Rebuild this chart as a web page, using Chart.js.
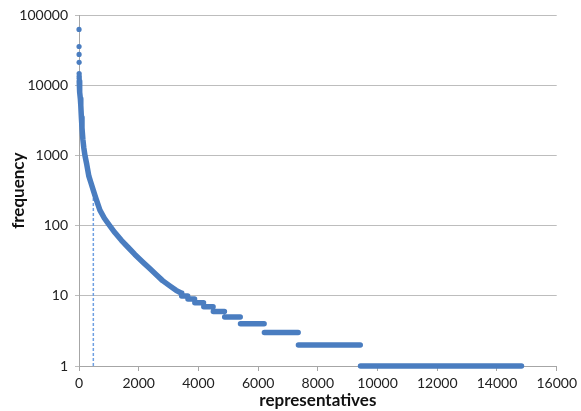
<!DOCTYPE html>
<html>
<head>
<meta charset="utf-8">
<script src="https://cdn.jsdelivr.net/npm/chart.js@4/dist/chart.umd.min.js"></script>
<style>
  html, body { margin: 0; padding: 0; background: #ffffff; }
  #wrap { width: 581px; height: 411px; position: relative; }
</style>
</head>
<body>
<div id="wrap"><canvas id="c"></canvas></div>
<script>
// ---- data ----
const headRanks = [1, 2, 3, 4, 5, 6, 7];
const headFreq  = [63000, 36000, 27800, 21400, 14800, 13600, 12700];

const curveRanks = [8, 15, 30, 45, 60, 80, 100, 130, 160, 200, 260, 330, 400, 480, 560, 700, 850, 1030, 1200, 1420, 1650, 1870, 2150, 2370, 2590, 2800, 3030, 3250, 3420];
const curveFreq  = [11500, 10000, 8000, 6500, 5200, 3500, 2500, 1700, 1300, 1000, 750, 510, 410, 320, 250, 167, 128, 100, 80, 62, 49, 39, 30, 24.5, 20, 16.5, 14, 12, 11];

const stepFreq  = [10, 9, 8, 7, 6, 5, 4, 3, 2, 1];
const stepStart = [3440, 3650, 3880, 4180, 4500, 4880, 5410, 6210, 7350, 9430];
const stepEnd   = [3640, 3870, 4170, 4490, 4870, 5400, 6200, 7340, 9420, 14820];

const markerRank = 480;
const markerFreq = 320;

const xTicks = [0, 2000, 4000, 6000, 8000, 10000, 12000, 14000, 16000];
const yTicks = [1, 10, 100, 1000, 10000, 100000];

// ---- build datasets ----
const blue = '#4a7dc0';
const mainPts = curveRanks.map((r, i) => ({ x: r, y: curveFreq[i] }));
stepFreq.forEach((f, i) => {
  mainPts.push({ x: stepStart[i], y: f });
  mainPts.push({ x: stepEnd[i], y: f });
  if (i < stepFreq.length - 1) mainPts.push({ x: (stepEnd[i] + stepStart[i + 1]) / 2, y: null });
});
const headPts = headRanks.map((r, i) => ({ x: r, y: headFreq[i] }));
const markerPts = [{ x: markerRank, y: 1 }, { x: markerRank, y: markerFreq }];

const gridGray = '#bdbdbd';
const axisGray = '#a6a6a6';

new Chart(document.getElementById('c'), {
  type: 'scatter',
  data: {
    datasets: [
      {
        data: markerPts, showLine: true, borderColor: '#6f9fe2', borderWidth: 1.5,
        borderDash: [3, 2], pointRadius: 0, order: 3
      },
      {
        data: mainPts, showLine: true, spanGaps: false, borderColor: blue, backgroundColor: blue,
        borderWidth: 5.5, borderCapStyle: 'round', borderJoinStyle: 'round',
        pointRadius: 0, tension: 0, order: 1, clip: false
      },
      {
        data: headPts, showLine: false, backgroundColor: blue, borderColor: blue,
        pointRadius: 2.6, borderWidth: 0, order: 2, clip: false
      }
    ]
  },
  options: {
    responsive: true,
    maintainAspectRatio: false,
    animation: false,
    layout: { padding: { left: 0, top: 15, right: 22, bottom: 0 } },
    plugins: { legend: { display: false }, tooltip: { enabled: false } },
    scales: {
      x: {
        type: 'linear', min: 0, max: 16000,
        afterFit: s => { s.height = 45; },
        afterBuildTicks: s => { s.ticks = xTicks.map(v => ({ value: v })); },
        ticks: { padding: 4, color: '#222', font: { family: 'Lato', size: 14 }, maxRotation: 0, callback: v => String(v) },
        grid: { display: true, drawOnChartArea: false, drawTicks: true, tickLength: 5, color: axisGray },
        border: { display: true, color: axisGray, width: 1 },
        title: { display: true, text: 'representatives', color: '#111', font: { family: 'Lato', size: 17, weight: 'bold' }, padding: { top: 0, bottom: 0 } }
      },
      y: {
        type: 'logarithmic', min: 1, max: 100000,
        afterFit: s => { s.width = 79; },
        afterBuildTicks: s => { s.ticks = yTicks.map(v => ({ value: v })); },
        ticks: { padding: 7, color: '#222', font: { family: 'Lato', size: 14 }, callback: v => String(v) },
        grid: { color: gridGray, lineWidth: 1, drawTicks: true, tickLength: 4 },
        border: { display: true, color: axisGray, width: 1 },
        title: { display: true, text: 'frequency', color: '#111', font: { family: 'Lato', size: 17, weight: 'bold' }, padding: { top: 8, bottom: 0 } }
      }
    }
  }
});
</script>
</body>
</html>
